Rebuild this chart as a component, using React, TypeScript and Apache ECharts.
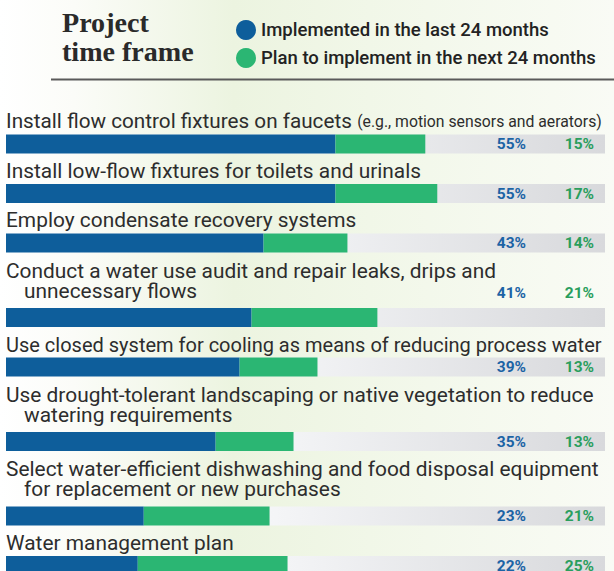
import React, { useEffect, useRef } from "react";
import * as echarts from "echarts";

const CATEGORIES = [
  "Install flow control fixtures on faucets",
  "Install low-flow fixtures for toilets and urinals",
  "Employ condensate recovery systems",
  "Conduct a water use audit and repair leaks, drips and\nunnecessary flows",
  "Use closed system for cooling as means of reducing process water",
  "Use drought-tolerant landscaping or native vegetation to reduce\nwatering requirements",
  "Select water-efficient dishwashing and food disposal equipment\nfor replacement or new purchases",
  "Water management plan",
];
const CATEGORY_NOTES = ["(e.g., motion sensors and aerators)", "", "", "", "", "", "", ""];
const IMPLEMENTED = [55, 55, 43, 41, 39, 35, 23, 22];
const PLANNED = [15, 17, 14, 21, 13, 13, 21, 25];
const SERIES_NAMES = ["Implemented in the last 24 months", "Plan to implement in the next 24 months"];
const TITLE_LINES = ["Project", "time frame"];
const AXIS_MAX = 100;

// layout
const W = 614;
const H = 571;
const BAR_LEFT = 6;
const BAR_RIGHT_EDGE = 605;
const BAR_H = 19;
const FIRST_TOP = 134.5;
const ROW_PITCH = 49.5;
const EXTRA_LINE = 25;
const LINE_GAP = 20;
const LABEL_FS = 21;
const LABEL_SCALE = 0.995;
const LABEL_MAX_W = 602;
const NOTE_FS = 16;
const PCT_FS = 15.5;
const RAISED_LABEL_ROWS = [3];

const BLUE = "#0e5e9b";
const GREEN = "#2bb673";
const BLUE_TXT = "#1c63a5";
const GREEN_TXT = "#2a9e5d";
const TEXT = "#2d2d2d";

function measure(text: string, font: string): number {
  const c = document.createElement("canvas").getContext("2d");
  if (!c) return 0;
  c.font = font;
  return c.measureText(text).width;
}

export default function App() {
  const ref = useRef<HTMLDivElement>(null);
  useEffect(() => {
    if (!ref.current) return;
    const chart = echarts.init(ref.current, null, { renderer: "svg" });

    const lines = CATEGORIES.map((c) => c.split("\n"));
    const tops: number[] = [];
    lines.forEach((l, i) => {
      tops.push(i === 0 ? FIRST_TOP : tops[i - 1] + ROW_PITCH + EXTRA_LINE * (l.length - 1));
    });

    const grids = tops.map((t) => ({
      left: BAR_LEFT,
      width: BAR_RIGHT_EDGE - BAR_LEFT,
      top: t,
      height: BAR_H,
    }));
    const xAxes = tops.map((_, i) => ({ type: "value", gridIndex: i, min: 0, max: AXIS_MAX, show: false }));
    const yAxes = tops.map((_, i) => ({ type: "category", gridIndex: i, data: [CATEGORIES[i]], show: false }));

    const bgGrad = new echarts.graphic.LinearGradient(0, 0, 1, 0, [
      { offset: 0, color: "#ffffff" },
      { offset: 0.45, color: "#f4f5f7" },
      { offset: 1, color: "#d8d9dc" },
    ]);

    const series: any[] = [];
    tops.forEach((_, i) => {
      series.push({
        type: "bar",
        xAxisIndex: i,
        yAxisIndex: i,
        data: [AXIS_MAX],
        barWidth: BAR_H,
        barGap: "-100%",
        silent: true,
        itemStyle: { color: bgGrad },
      });
      series.push({
        type: "bar",
        name: SERIES_NAMES[0],
        xAxisIndex: i,
        yAxisIndex: i,
        stack: "s" + i,
        data: [IMPLEMENTED[i]],
        barWidth: BAR_H,
        barGap: "-100%",
        itemStyle: { color: BLUE },
      });
      series.push({
        type: "bar",
        name: SERIES_NAMES[1],
        xAxisIndex: i,
        yAxisIndex: i,
        stack: "s" + i,
        data: [PLANNED[i]],
        barWidth: BAR_H,
        barGap: "-100%",
        itemStyle: { color: GREEN },
      });
    });

    const graphics: any[] = [];
    graphics.push({
      type: "rect",
      z: -10,
      silent: true,
      shape: { x: 0, y: 0, width: W, height: H },
      style: {
        fill: new echarts.graphic.LinearGradient(0, 0, 1, 0, [
          { offset: 0, color: "#ffffff" },
          { offset: 0.12, color: "#fbfcf8" },
          { offset: 0.38, color: "#ecf4e0" },
          { offset: 0.6, color: "#f1f7e8" },
          { offset: 1, color: "#f9fbf5" },
        ]),
      },
    });
    // title
    TITLE_LINES.forEach((t, k) => {
      const baseline = 32 + k * 29;
      graphics.push({
        type: "text",
        x: 62,
        y: baseline - 0.3375 * 27,
        scaleX: 1.04,
        z: 100,
        style: {
          text: t,
          fontFamily: "Liberation Serif",
          fontWeight: "bold",
          fontSize: 27,
          fill: "#2a2a2a",
          verticalAlign: "middle",
        },
      });
    });
    graphics.push({
      type: "line",
      z: 100,
      shape: { x1: 51, y1: 79.5, x2: W, y2: 79.5 },
      style: { stroke: "#5a5a5a", lineWidth: 2 },
    });

    lines.forEach((l, i) => {
      const top = tops[i];
      const lastBase = top - (l.length > 1 ? 10 : 6);
      l.forEach((txt, k) => {
        const baseline = lastBase - (l.length - 1 - k) * LINE_GAP;
        const note = k === 0 ? CATEGORY_NOTES[i] : "";
        const x = k === 0 ? BAR_LEFT : 24;
        let natural = measure(txt, `${LABEL_FS}px Roboto`);
        if (note) natural += measure(" ", `${LABEL_FS}px Roboto`) + measure(note, `${NOTE_FS}px Roboto`);
        const avail = LABEL_MAX_W - x;
        const sx = natural > 0 ? Math.min(LABEL_SCALE, avail / natural) : LABEL_SCALE;
        graphics.push({
          type: "text",
          x,
          y: baseline - 0.34 * LABEL_FS,
          scaleX: sx,
          z: 100,
          style: {
            text: note ? `{m|${txt}} {n|${note}}` : txt,
            fontFamily: "Roboto",
            fontSize: LABEL_FS,
            fill: TEXT,
            verticalAlign: "middle",
            rich: {
              m: { fontFamily: "Roboto", fontSize: LABEL_FS, fill: TEXT },
              n: { fontFamily: "Roboto", fontSize: NOTE_FS, fill: TEXT },
            },
          },
        });
      });
      const py = RAISED_LABEL_ROWS.includes(i) ? lastBase - 0.34 * PCT_FS : top + BAR_H / 2;
      graphics.push({
        type: "text",
        x: 526,
        y: py,
        z: 100,
        style: {
          text: IMPLEMENTED[i] + "%",
          fontFamily: "Roboto",
          fontWeight: "bold",
          fontSize: PCT_FS,
          fill: BLUE_TXT,
          align: "right",
          verticalAlign: "middle",
        },
      });
      graphics.push({
        type: "text",
        x: 594,
        y: py,
        z: 100,
        style: {
          text: PLANNED[i] + "%",
          fontFamily: "Roboto",
          fontWeight: "bold",
          fontSize: PCT_FS,
          fill: GREEN_TXT,
          align: "right",
          verticalAlign: "middle",
        },
      });
    });

    chart.setOption({
      animation: false,
      grid: grids,
      xAxis: xAxes,
      yAxis: yAxes,
      legend: {
        data: SERIES_NAMES,
        orient: "vertical",
        left: 231,
        top: 15,
        icon: "circle",
        itemWidth: 20,
        itemHeight: 20,
        itemGap: 8,
        selectedMode: false,
        textStyle: { fontFamily: "Roboto", fontSize: 18.5, fontWeight: 500, color: "#222222" },
      },
      graphic: graphics,
      series,
    });
    return () => chart.dispose();
  }, []);
  return <div ref={ref} style={{ position: "absolute", left: 0, top: 0, width: W, height: H }} />;
}
